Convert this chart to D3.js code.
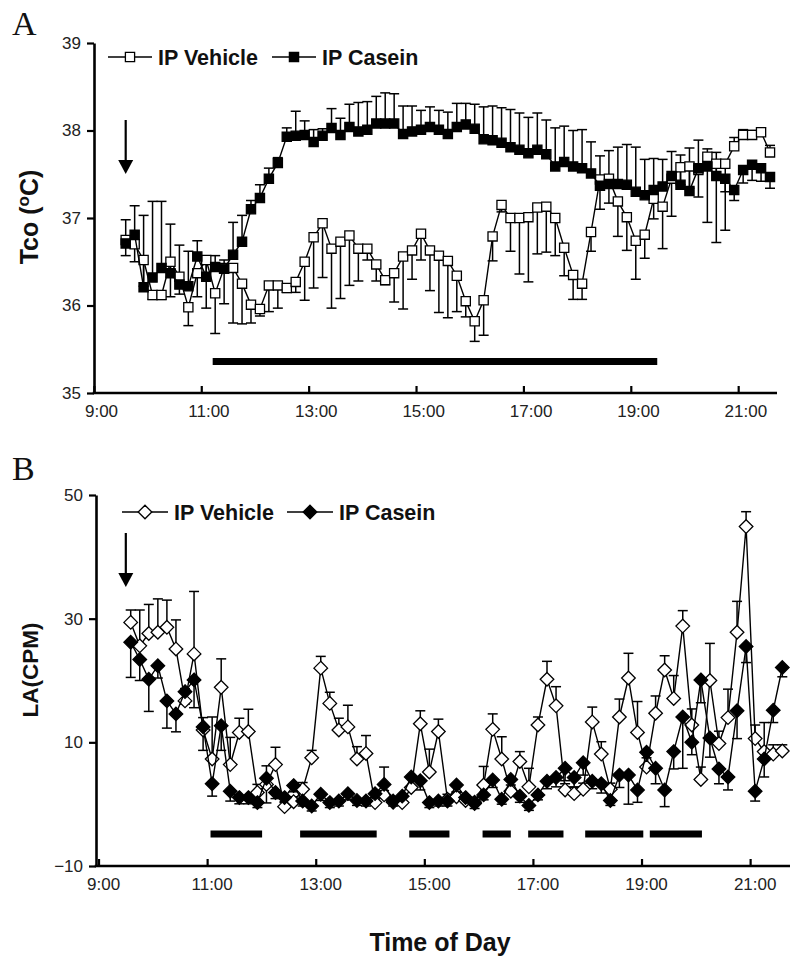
<!DOCTYPE html>
<html><head><meta charset="utf-8">
<script src="https://cdn.jsdelivr.net/npm/d3@7"></script>
<style>body{margin:0;background:#fff} svg{display:block}</style>
</head><body>
<svg id="chart" width="800" height="963"></svg>
<script>
// ---------- DATA ----------
const startHour = 9.5;          // first sample 9:30
const stepHours = 1 / 6;        // 10-min samples
const tickHours = [9, 11, 13, 15, 17, 19, 21];
const tickLabels = ["9:00", "11:00", "13:00", "15:00", "17:00", "19:00", "21:00"];
const seriesNames = ["IP Vehicle", "IP Casein"];

// Panel A : core temperature (°C)
const tcoVehicle = [36.75,36.70,36.52,36.12,36.12,36.50,36.33,35.98,36.37,36.52,36.14,36.43,36.43,36.25,36.01,35.96,36.23,36.23,36.20,36.27,
  36.50,36.78,36.94,36.65,36.73,36.80,36.65,36.65,36.47,36.29,36.37,36.56,36.63,36.82,36.63,36.57,36.51,36.34,36.05,35.82,
  36.06,36.79,37.15,37.00,37.00,37.01,37.12,37.13,37.00,36.66,36.35,36.25,36.84,37.44,37.45,37.19,37.01,36.74,36.81,37.22,
  37.13,37.45,37.58,37.59,37.55,37.70,37.62,37.62,37.82,37.95,37.95,37.98,37.75];
const tcoVehicleErr = [-0.18,-0.20,-0.30,-0.05,-0.05,-0.40,-0.20,-0.21,-0.27,-0.55,-0.46,-0.41,-0.63,-0.46,-0.21,-0.08,-0.30,-0.26,-0.05,-0.12,
  -0.44,-0.58,-0.62,-0.68,-0.65,-0.57,-0.37,-0.13,-0.19,-0.05,-0.33,-0.60,-0.33,-0.30,-0.46,-0.65,-0.65,-0.41,-0.18,-0.23,
  -0.40,-0.28,-0.08,-0.38,-0.64,-0.74,-0.53,-0.52,-0.43,-0.32,-0.28,-0.18,-0.22,-0.34,-0.28,-0.40,-0.38,-0.44,-0.27,-0.23,
  -0.48,-0.43,-0.20,-0.25,-0.31,-0.75,-0.90,-0.76,0.10,0.06,0.05,0.05,0.08];
const tcoCasein = [36.71,36.81,36.21,36.32,36.43,36.37,36.24,36.22,36.56,36.33,36.44,36.42,36.58,36.73,37.10,37.23,37.45,37.63,37.93,37.94,
  37.95,37.87,37.94,38.03,37.95,38.04,37.99,38.01,38.08,38.08,38.08,37.96,37.99,38.01,38.04,38.01,37.96,38.04,38.07,38.02,
  37.90,37.89,37.86,37.81,37.78,37.74,37.78,37.73,37.59,37.64,37.59,37.57,37.51,37.37,37.39,37.39,37.38,37.30,37.26,37.32,
  37.36,37.48,37.38,37.31,37.57,37.59,37.48,37.45,37.32,37.55,37.61,37.57,37.47];
const tcoCaseinErr = [0.27,0.33,0.82,0.87,0.76,0.56,0.45,0.40,0.18,0.15,0.13,0.10,0.37,0.30,0.10,0.15,0.12,0.06,0.10,0.28,
  0.16,0.14,0.08,0.22,0.19,0.26,0.33,0.32,0.31,0.35,0.34,0.32,0.29,0.22,0.23,0.22,0.25,0.27,0.24,0.28,
  0.37,0.39,0.40,0.43,0.42,0.41,0.42,0.39,0.44,0.41,0.41,0.44,0.36,0.34,0.38,0.42,0.46,0.51,0.41,0.36,
  0.31,0.28,0.34,0.49,0.32,0.20,0.27,-0.15,-0.12,-0.15,-0.18,-0.15,-0.13];
const tcoTicks = [35, 36, 37, 38, 39];
const tcoBars = [[11.12, 19.40]];     // treatment period bar (hours)
const tcoArrowHour = 9.5;

// Panel B : locomotor activity (counts per minute)
const laVehicle = [29.4,25.6,27.6,27.8,28.6,25.1,16.7,24.3,12.0,7.3,18.9,6.4,11.6,11.75,1.9,3.2,6.4,-0.4,0.4,2.4,
  7.5,22.0,16.3,12.0,12.5,7.3,8.2,0.25,1.5,0.3,0.25,2.7,13.0,5.2,11.75,0.8,1.2,0.6,0.3,3.1,
  12.1,7.3,2.1,6.9,2.8,12.8,20.2,15.9,2.3,1.7,2.4,13.3,8.1,2.4,14.1,20.4,11.6,6.0,14.7,21.7,
  17.1,28.8,12.8,4.0,20.0,9.8,14.0,27.8,44.9,10.6,8.5,8.1,8.6];
const laVehicleErr = [2.0,5.8,4.7,5.4,4.4,4.7,2.0,10.1,2.0,6.8,4.6,4.4,2.3,3.6,1.3,3.0,2.8,0.8,0.8,1.1,
  1.2,1.9,1.8,1.9,3.5,2.0,2.9,0.8,4.5,0.8,0.8,1.5,2.1,3.7,2.0,0.8,0.8,0.8,0.8,3.0,
  2.5,3.6,1.0,1.6,3.0,1.3,2.9,3.1,1.0,1.0,1.0,2.4,2.0,1.0,2.9,4.0,5.0,1.5,2.8,2.3,
  3.7,2.5,2.6,2.0,6.0,2.0,4.6,5.0,2.4,2.2,4.7,1.5,1.0];
const laCasein = [26.2,23.4,20.2,22.4,16.7,14.6,18.2,20.1,12.5,3.3,12.7,2.1,1.06,1.06,0.25,4.2,1.9,1.06,3.0,0.5,
  -0.3,1.6,0.25,0.5,1.7,0.6,0.5,1.7,3.2,0.5,1.3,4.4,3.8,0.25,0.5,0.5,3.1,1.06,0.1,1.5,
  3.9,0.8,4.0,1.3,-0.2,1.5,3.7,4.3,5.8,4.3,6.7,3.7,3.3,0.6,4.7,4.7,2.3,8.4,5.8,2.3,
  8.5,14.1,10.0,20.1,10.7,5.7,4.4,15.1,25.5,2.1,7.3,15.2,22.1];
const laCaseinErr = [-5.7,-3.4,-5.2,-2.0,-4.4,-2.9,-2.0,-4.5,-3.8,-2.0,-4.0,-1.6,-1.0,-1.0,-0.8,-4.0,-1.0,-0.8,-1.0,-0.8,
  -0.8,-1.0,-0.8,-0.8,-1.0,-0.8,-0.8,-1.0,-1.0,-0.8,-1.0,-1.5,-1.5,-0.8,-0.8,-0.8,-1.2,-0.8,-0.8,-0.8,
  -1.2,-0.8,-1.5,-1.0,-0.8,-0.8,-1.2,-1.5,-2.0,-1.5,-2.0,-1.2,-1.5,-0.8,-2.0,-4.7,-2.0,-2.5,-2.5,-2.7,
  -2.8,-8.3,-2.0,-3.7,-3.1,-2.4,-2.1,-4.5,-2.6,-1.6,-2.9,-2.0,-1.5];
const laTicks = [-10, 10, 30, 50];
const laBars = [[10.97,11.92],[12.62,14.03],[14.63,15.37],[15.98,16.50],[16.82,17.47],[17.87,18.94],[19.06,20.02]];
const laArrowHour = 9.41;

// ---------- DRAWING ----------
const svg = d3.select("#chart");
const FONT = "'Liberation Sans', Arial, sans-serif";

function squarePath(r) { return `M${-r},${-r}H${r}V${r}H${-r}Z`; }
function diamondPath(r) { return `M0,${-r}L${r},0L0,${r}L${-r},0Z`; }

function drawPanel(p) {
  const g = svg.append("g");
  const x = d3.scaleLinear().domain([startHour, startHour + 72 * stepHours]).range(p.xRange);
  const y = d3.scaleLinear().domain(p.yDomain).range(p.yRange);
  const times = p.vehicle.map((_, i) => startHour + i * stepHours);

  // y axis
  const ya = g.append("g").attr("transform", `translate(${p.axisX},0)`)
    .call(d3.axisLeft(y).tickValues(p.yTicks).tickFormat(d3.format("d")).tickSize(7).tickSizeOuter(0).tickPadding(6));
  ya.select(".domain").attr("stroke-width", 2.6);
  ya.selectAll(".tick line").attr("stroke-width", 2.2);
  ya.selectAll("text").attr("font-family", FONT).attr("font-size", 17).attr("fill", "#222");

  // x axis
  const bottom = p.yRange[0];
  g.append("line").attr("x1", p.axisX - 1.3).attr("x2", p.axisRight)
    .attr("y1", bottom).attr("y2", bottom).attr("stroke", "#000").attr("stroke-width", 2.6);
  const xt = g.append("g").selectAll("g").data(tickHours).join("g");
  xt.append("line")
    .attr("x1", d => x(d - p.tickShift)).attr("x2", d => x(d - p.tickShift))
    .attr("y1", bottom).attr("y2", bottom - 7).attr("stroke", "#000").attr("stroke-width", 2.2);
  xt.append("text")
    .attr("x", d => x(d + p.labelShift)).attr("y", bottom + 24)
    .attr("text-anchor", "middle").attr("font-family", FONT).attr("font-size", 17).attr("fill", "#222")
    .text((d, i) => tickLabels[i]);

  // treatment bars
  g.selectAll(".tbar").data(p.bars).join("rect")
    .attr("x", d => x(d[0])).attr("width", d => x(d[1]) - x(d[0]))
    .attr("y", p.barY - 3.5).attr("height", 7).attr("fill", "#000");

  // arrow
  const ax = x(p.arrowHour);
  g.append("line").attr("x1", ax).attr("x2", ax).attr("y1", p.arrowY[0]).attr("y2", p.arrowY[1] - 10)
    .attr("stroke", "#000").attr("stroke-width", 2.2);
  g.append("path").attr("d", `M${ax - 7.5},${p.arrowY[1] - 14}L${ax + 7.5},${p.arrowY[1] - 14}L${ax},${p.arrowY[1]}Z`).attr("fill", "#000");

  const series = [
    { v: p.vehicle, e: p.vehicleErr, fill: "#fff" },
    { v: p.casein, e: p.caseinErr, fill: "#000" }
  ];
  const line = d3.line().x((d, i) => x(times[i])).y(d => y(d));
  // error bars first
  series.forEach(s => {
    const eg = g.append("g").attr("stroke", "#000").attr("stroke-width", 1.5);
    s.v.forEach((v, i) => {
      const xx = x(times[i]), y0 = y(v), y1 = y(v + s.e[i]);
      eg.append("line").attr("x1", xx).attr("x2", xx).attr("y1", y0).attr("y2", y1);
      eg.append("line").attr("x1", xx - 5).attr("x2", xx + 5).attr("y1", y1).attr("y2", y1);
    });
  });
  series.forEach(s => {
    g.append("path").datum(s.v).attr("d", line).attr("fill", "none").attr("stroke", "#000").attr("stroke-width", 1.4);
    g.append("g").selectAll("path").data(s.v).join("path")
      .attr("transform", (d, i) => `translate(${x(times[i])},${y(d)})`)
      .attr("d", p.marker).attr("fill", s.fill).attr("stroke", "#000").attr("stroke-width", 1.3);
  });

  // legend
  const L = p.legend;
  [0, 1].forEach(k => {
    const lx = L.x[k];
    g.append("line").attr("x1", lx).attr("x2", lx + L.len).attr("y1", L.y).attr("y2", L.y)
      .attr("stroke", "#000").attr("stroke-width", 1.6);
    g.append("path").attr("transform", `translate(${lx + L.len / 2},${L.y})`).attr("d", p.marker)
      .attr("fill", series[k].fill).attr("stroke", "#000").attr("stroke-width", 1.3);
    g.append("text").attr("x", lx + L.len + 6).attr("y", L.y + 7.5)
      .attr("font-family", FONT).attr("font-weight", "bold").attr("font-size", 21.5).attr("fill", "#111")
      .text(seriesNames[k]);
  });

  // y title
  const yt = g.append("text").attr("transform", `translate(${p.titlePos[0]},${p.titlePos[1]}) rotate(-90)`)
    .attr("text-anchor", "middle").attr("font-family", FONT).attr("font-weight", "bold").attr("font-size", p.titleSize).attr("fill", "#111");
  p.title(yt);

  // panel letter
  g.append("text").attr("x", 12).attr("y", p.letterY).attr("font-family", "'Liberation Serif', 'Times New Roman', serif")
    .attr("font-size", 34).attr("fill", "#111").text(p.letter);
}

drawPanel({
  letter: "A", letterY: 35,
  xRange: [125.7, 770], axisX: 94, axisRight: 777,
  yDomain: [35, 39], yRange: [393, 43], yTicks: tcoTicks,
  tickShift: 1 / 12, labelShift: 0.05,
  vehicle: tcoVehicle, vehicleErr: tcoVehicleErr, casein: tcoCasein, caseinErr: tcoCaseinErr,
  bars: tcoBars, barY: 361.5,
  arrowHour: tcoArrowHour, arrowY: [120, 174],
  marker: squarePath(4.6),
  legend: { x: [108, 272], y: 57, len: 44 },
  titlePos: [38, 217], titleSize: 25,
  title: t => { t.append("tspan").text("Tco ("); t.append("tspan").attr("font-size", 17).attr("dy", -9).text("o");
                t.append("tspan").attr("dy", 9).text("C)"); }
});

drawPanel({
  letter: "B", letterY: 480,
  xRange: [130.7, 782.3], axisX: 96, axisRight: 790,
  yDomain: [-10, 50], yRange: [866, 495], yTicks: laTicks,
  tickShift: 1 / 12, labelShift: 0,
  vehicle: laVehicle, vehicleErr: laVehicleErr, casein: laCasein, caseinErr: laCaseinErr,
  bars: laBars, barY: 834,
  arrowHour: laArrowHour, arrowY: [533, 587],
  marker: diamondPath(6.8),
  legend: { x: [122, 287], y: 512, len: 46 },
  titlePos: [38, 670], titleSize: 22.5,
  title: t => t.text("LA(CPM)")
});

svg.append("text").attr("x", 440).attr("y", 951).attr("text-anchor", "middle")
  .attr("font-family", FONT).attr("font-weight", "bold").attr("font-size", 25).attr("fill", "#111").text("Time of Day");
</script>
</body></html>
